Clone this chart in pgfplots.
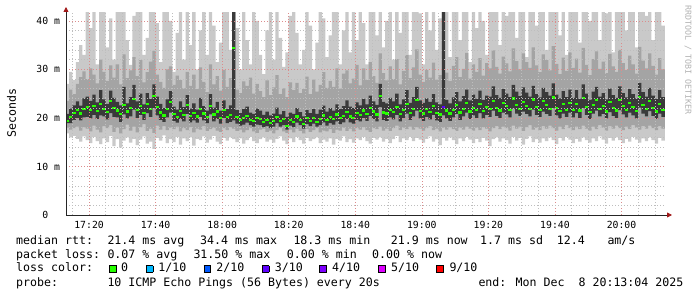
\documentclass[border=0pt]{standalone}
\usepackage{fontspec}
\setmainfont{DejaVu Sans Mono}
\usepackage{pgfplots}
\pgfplotsset{compat=1.18}
\usepackage{pgfplotstable}
\usepgfplotslibrary{fillbetween}
\usetikzlibrary{arrows.meta}

\definecolor{smokeA}{HTML}{C9C9C9}
\definecolor{smokeB}{HTML}{A4A4A4}
\definecolor{smokeC}{HTML}{3A3A3A}
\definecolor{medgreen}{HTML}{26FF00}
\definecolor{lossA}{HTML}{00B8FF}
\definecolor{lossB}{HTML}{0059FF}
\definecolor{lossC}{HTML}{5E00FF}
\definecolor{lossD}{HTML}{7E00FF}
\definecolor{lossE}{HTML}{DD00FF}
\definecolor{lossF}{HTML}{FF0000}
\definecolor{gridmaj}{HTML}{DC8C8C}
\definecolor{gridmin}{HTML}{BEBEBE}
\definecolor{arrowred}{HTML}{A01818}

\newcommand\legfont{\fontsize{11.6}{13}\selectfont}
\newcommand\tickfont{\fontsize{9.8}{11}\selectfont}
\newcommand\lbox[1]{{\fboxsep=0pt\fboxrule=0.7pt\fcolorbox{black}{#1}{\rule{0pt}{6.1pt}\hspace{6.1pt}}}}

% minute since 17:00, min, p2, p4, median, p7, p9, max (ms)
\pgfplotstableread{
t lo1 lo2 lo3 med hi3 hi2 hi1
13 16.8 18.0 18.9 19.4 20.8 23.5 27.0
14 16.0 17.6 18.9 20.2 21.9 25.8 29.5
15 16.3 17.9 19.6 21.0 22.6 24.9 27.8
16 15.7 18.2 20.0 21.6 23.4 27.0 31.5
17 15.1 17.4 19.5 20.9 22.5 28.4 35.0
18 16.2 18.1 20.1 21.8 24.0 29.6 33.0
19 15.4 17.8 20.2 22.3 24.4 28.0 44.0
20 14.8 17.2 19.9 21.7 23.5 30.2 38.5
21 16.1 18.4 20.6 22.5 24.8 28.9 44.0
22 15.2 17.6 19.8 21.4 23.2 27.1 31.0
23 14.6 17.0 20.5 22.8 25.7 32.0 44.0
24 15.8 18.3 20.3 21.9 23.8 29.5 44.0
25 15.0 17.9 19.7 21.2 22.9 27.6 34.5
26 16.3 18.5 21.0 23.4 25.6 30.8 40.5
27 14.2 17.1 20.2 22.0 24.1 28.3 32.0
28 15.6 18.0 20.1 21.5 23.3 31.0 44.0
29 13.9 16.8 19.2 20.8 22.6 26.9 44.0
30 15.3 17.7 20.7 22.6 26.4 33.1 44.0
31 16.0 18.6 19.9 21.3 23.0 28.2 36.0
32 14.9 17.4 20.3 22.1 24.3 29.8 30.9
33 15.7 18.2 21.7 23.9 26.8 32.5 41.0
34 14.4 17.0 20.0 21.6 23.4 28.6 44.0
35 15.5 18.1 20.6 22.4 25.0 31.9 44.0
36 16.2 18.7 19.6 21.0 22.8 27.3 33.0
37 14.7 17.3 21.0 22.9 25.1 29.4 36.5
38 15.1 17.8 20.2 21.8 23.9 31.6 44.0
39 13.6 16.9 22.0 24.5 26.9 33.8 44.0
40 15.9 18.4 20.5 22.2 24.4 28.9 39.5
41 15.3 17.6 19.6 21.1 22.9 27.4 31.5
42 16.4 18.3 19.2 20.5 22.0 26.2 44.0
43 14.8 17.5 20.1 21.9 23.8 30.0 44.0
44 15.6 18.0 21.1 23.2 25.5 30.6 40.0
45 15.0 17.7 19.4 20.8 22.3 26.8 29.5
46 16.1 18.2 19.0 20.2 21.7 28.7 37.5
47 14.5 17.2 19.8 21.4 23.4 27.8 44.0
48 15.8 17.9 19.3 20.6 22.2 26.1 32.0
49 15.2 17.5 20.8 22.7 24.7 29.5 44.0
50 16.0 18.1 19.1 20.4 21.9 26.6 35.0
51 14.3 17.0 19.5 21.0 23.0 28.9 44.0
52 15.7 17.8 19.0 20.3 21.7 25.9 30.0
53 15.4 17.6 20.2 21.8 24.1 30.4 38.0
54 16.2 18.3 19.5 20.9 22.4 27.4 44.0
55 14.9 17.3 18.9 20.1 21.5 25.3 33.0
56 15.5 17.7 20.7 22.5 24.9 31.0 44.0
57 16.3 18.0 19.3 20.7 22.1 26.9 39.0
58 15.1 17.4 19.8 21.3 23.3 28.6 31.5
59 14.6 17.1 18.8 20.0 21.5 25.6 35.5
60 15.9 17.9 20.0 21.6 23.6 29.9 44.0
61 15.3 17.5 18.9 20.2 21.8 26.4 44.0
62 16.0 18.1 19.2 20.6 22.6 28.2 34.0
63 15.6 17.8 19.5 34.4 44.0 44.0 44.0
64 15.0 17.3 18.8 20.1 21.6 25.8 38.5
65 15.8 17.6 18.4 19.5 21.0 25.1 30.0
66 14.7 17.0 18.6 19.9 21.8 27.5 44.0
67 15.4 17.5 19.0 20.4 22.3 26.6 36.0
68 16.1 17.9 18.5 19.6 21.1 28.3 31.0
69 15.2 17.2 18.2 19.3 20.8 25.0 44.0
70 14.8 16.9 18.6 20.0 21.9 27.0 40.0
71 15.6 17.6 18.5 19.8 21.5 25.5 33.0
72 16.0 17.8 18.1 19.2 20.6 24.3 29.0
73 15.1 17.1 18.3 19.6 21.3 27.7 38.0
74 15.5 17.4 17.9 19.0 20.5 24.7 44.0
75 14.9 16.8 18.2 19.4 20.9 26.3 32.0
76 15.7 17.5 18.9 20.2 22.1 28.8 44.0
77 16.2 17.9 18.2 19.3 20.7 24.9 36.5
78 15.3 17.2 18.5 19.7 21.4 26.1 30.5
79 14.6 16.9 17.6 18.3 20.2 24.3 33.5
80 15.8 17.6 18.4 19.5 21.1 27.3 41.0
81 15.0 17.0 18.1 19.1 20.8 25.7 44.0
82 16.1 17.8 19.0 20.3 22.0 27.2 37.5
83 15.4 17.3 18.5 19.6 21.2 25.1 31.0
84 14.7 16.8 17.8 18.8 20.3 25.9 34.0
85 15.9 17.7 18.7 19.9 21.6 28.5 44.0
86 15.2 17.1 18.3 19.4 21.0 24.9 39.0
87 15.6 17.5 18.8 20.0 21.8 27.9 30.0
88 16.0 17.9 18.2 19.2 20.8 25.4 35.5
89 14.8 17.0 18.5 19.7 21.7 26.8 44.0
90 15.5 17.4 19.1 20.5 22.5 29.4 40.5
91 15.1 17.2 18.4 19.5 21.3 26.2 32.5
92 15.8 17.7 18.9 20.1 22.0 27.6 37.0
93 14.5 16.9 18.6 19.8 21.5 26.4 44.0
94 15.7 17.6 19.3 20.7 22.8 30.2 44.0
95 15.3 17.4 18.7 19.9 21.8 26.0 31.0
96 16.2 18.0 19.1 20.4 22.4 29.1 38.0
97 15.0 17.3 19.8 21.2 23.6 29.8 44.0
98 15.6 17.8 19.1 20.3 22.3 27.1 33.5
99 14.9 17.2 18.8 20.0 22.0 28.1 44.0
100 15.8 17.9 19.6 21.0 23.2 30.9 36.0
101 15.4 17.6 19.3 20.6 22.6 26.7 44.0
102 16.1 18.1 20.0 21.5 23.9 30.2 39.5
103 15.2 17.5 19.4 20.8 22.8 27.8 31.0
104 14.7 17.1 20.4 22.0 24.6 31.5 44.0
105 15.9 17.9 19.8 21.3 23.4 28.6 44.0
106 15.5 17.7 19.3 20.7 22.7 27.2 37.0
107 16.0 18.2 22.2 24.5 27.0 33.3 44.0
108 15.1 17.4 19.6 21.1 23.3 29.2 34.5
109 15.7 17.8 19.4 20.9 23.0 27.7 40.0
110 14.8 17.3 20.1 21.7 24.1 30.6 44.0
111 15.6 17.9 19.7 21.2 23.4 28.0 32.0
112 16.3 18.4 20.6 22.3 25.0 32.1 44.0
113 15.0 17.5 19.3 20.8 22.8 26.9 37.5
114 15.8 18.0 20.0 21.6 23.8 29.7 44.0
115 15.4 17.7 20.9 22.8 25.7 32.9 44.0
116 16.1 18.2 19.6 21.0 23.1 28.2 33.0
117 15.2 17.6 20.3 21.9 24.3 30.4 44.0
118 15.9 18.1 21.5 23.6 26.4 34.1 44.0
119 15.5 17.8 19.9 21.4 23.6 28.9 41.5
120 14.9 17.4 19.4 20.9 23.1 27.4 31.0
121 15.7 17.9 20.2 21.8 24.0 29.9 44.0
122 16.2 18.3 19.7 21.2 23.3 28.3 38.0
123 15.1 17.5 20.6 22.4 24.9 31.4 44.0
124 15.6 17.8 19.5 21.0 23.2 27.9 34.0
125 14.4 17.2 19.2 20.7 22.8 28.8 40.5
126 15.9 18.0 20.5 22.3 44.0 44.0 44.0
127 15.3 17.6 19.9 21.5 23.7 29.3 44.0
128 16.0 18.1 19.4 20.9 23.0 27.6 32.5
129 15.4 17.7 20.1 21.7 24.2 30.7 44.0
130 14.6 17.3 20.8 22.6 25.3 32.5 44.0
131 15.8 18.0 19.6 21.1 23.4 28.4 36.0
132 15.2 17.6 20.3 21.9 24.5 30.1 42.0
133 16.1 18.2 21.1 23.0 25.8 33.4 44.0
134 15.5 17.8 19.8 21.3 23.6 28.1 31.5
135 14.8 17.4 20.5 22.1 24.8 31.0 44.0
136 15.7 18.0 20.0 21.6 23.9 29.5 38.5
137 15.0 17.5 21.0 22.9 25.6 32.3 44.0
138 15.9 18.1 19.9 21.4 23.7 28.7 40.0
139 15.3 17.8 20.6 22.2 24.6 31.3 33.0
140 14.2 17.2 20.2 21.8 24.4 30.2 44.0
141 15.6 17.9 21.5 23.5 26.5 33.9 44.0
142 16.0 18.3 20.4 22.0 24.7 30.5 44.0
143 15.1 17.7 20.0 21.5 24.1 29.1 35.0
144 15.8 18.2 21.1 23.1 25.9 32.6 44.0
145 15.4 17.9 20.7 22.4 25.0 31.2 41.0
146 14.7 17.4 20.1 21.6 24.3 29.6 44.0
147 16.1 18.4 21.9 24.0 26.8 34.3 44.0
148 15.3 17.8 20.9 22.7 25.4 31.7 36.5
149 15.9 18.2 20.4 21.9 24.5 30.0 44.0
150 14.5 17.3 21.3 23.3 26.3 33.3 44.0
151 15.7 18.1 20.8 22.5 25.2 31.5 32.5
152 16.2 18.5 20.3 21.8 24.4 30.3 44.0
153 15.0 17.6 21.7 23.8 26.6 34.5 44.0
154 15.6 18.0 20.6 22.2 24.9 30.8 39.0
155 14.9 17.5 20.2 21.7 24.2 29.4 44.0
156 15.8 18.3 21.3 23.4 26.2 33.1 44.0
157 15.2 17.8 20.8 22.6 25.3 31.9 34.0
158 16.0 18.4 20.4 21.9 24.6 29.8 44.0
159 15.4 17.9 22.0 24.2 27.1 34.8 44.0
160 14.6 17.4 20.5 22.1 24.8 31.1 44.0
161 15.9 18.2 19.9 21.4 24.0 29.0 37.0
162 15.3 17.7 20.9 22.8 25.5 32.4 44.0
163 16.1 18.5 20.2 21.7 24.3 29.7 33.0
164 15.5 17.9 21.1 23.0 25.8 33.5 44.0
165 14.8 17.5 20.1 21.6 24.1 30.3 42.0
166 15.7 18.2 21.0 22.9 25.7 32.2 44.0
167 15.1 17.7 20.0 21.5 23.9 29.3 35.5
168 16.0 18.4 22.0 24.1 26.9 34.4 44.0
169 15.4 17.8 20.6 22.3 25.0 30.9 44.0
170 14.9 17.4 19.8 21.2 23.7 28.8 40.0
171 15.8 18.2 20.9 22.7 25.4 32.1 44.0
172 15.2 17.7 21.5 23.6 26.4 33.7 44.0
173 16.2 18.5 20.3 21.8 24.4 30.1 36.0
174 15.5 18.0 20.8 22.5 25.1 31.6 44.0
175 14.7 17.4 19.9 21.3 23.8 29.2 41.5
176 15.9 18.3 21.2 23.2 26.0 33.2 44.0
177 15.3 17.8 20.4 22.0 24.7 30.6 33.5
178 16.0 18.4 20.0 21.5 24.1 29.5 44.0
179 15.4 17.9 21.6 23.7 26.5 34.0 44.0
180 14.8 17.5 20.7 22.4 25.1 31.3 44.0
181 15.7 18.2 20.1 21.6 24.2 29.9 38.0
182 15.1 17.7 21.1 23.1 25.9 32.8 44.0
183 16.1 18.5 20.5 22.2 24.9 31.0 44.0
184 15.5 18.0 19.9 21.4 24.0 29.1 34.5
185 14.9 17.6 22.1 24.3 27.2 34.6 44.0
186 15.8 18.3 20.9 22.6 25.3 31.8 44.0
187 15.2 17.8 20.3 21.8 24.4 30.2 41.0
188 16.0 18.4 21.4 23.4 26.2 33.3 44.0
189 15.4 17.9 20.4 22.0 24.6 30.7 36.0
190 14.7 17.5 19.8 21.3 23.9 28.9 44.0
191 15.9 18.3 20.9 22.9 25.7 32.3 44.0
192 15.3 17.8 20.2 21.7 24.3 30.0 39.0
193 15.3 17.8 20.2 21.7 24.3 30.0 39.0
}\smoke

\begin{document}
\begin{tikzpicture}[x=1pt,y=1pt]
\begin{axis}[
  at={(66pt,82pt)}, anchor=south west,
  scale only axis, width=599pt, height=202pt,
  xmin=13.07, xmax=193.07, ymin=0, ymax=41.6,
  axis on top,
  axis x line=bottom, axis y line=left,
  x axis line style={black!85, line width=0.8pt, shorten >=-7pt, -{Triangle[length=5pt,width=5pt,color=arrowred]}},
  y axis line style={black!85, line width=0.8pt, shorten >=-6pt, -{Triangle[length=5pt,width=5pt,color=arrowred]}},
  xtick={20,40,...,180},
  xticklabels={17:20,17:40,18:00,18:20,18:40,19:00,19:20,19:40,20:00},
  minor xtick={15,25,30,35,45,50,55,65,70,75,85,90,95,105,110,115,125,130,135,145,150,155,165,170,175,185,190},
  ytick={0,10,20,30,40},
  yticklabels={0\phantom{ m},10 m,20 m,30 m,40 m},
  minor ytick={2,4,6,8,12,14,16,18,22,24,26,28,32,34,36,38},
  major tick length=0pt, minor tick length=0pt,
  grid=both,
  major grid style={gridmaj, line width=0.5pt, dash pattern=on 1pt off 2pt},
  minor grid style={gridmin, line width=0.5pt, dash pattern=on 1pt off 2pt},
  xticklabel style={font=\tickfont, text=black, yshift=-3pt},
  yticklabel style={font=\tickfont, text=black, xshift=-2.5pt},
]
\addplot[name path=h1, draw=none, const plot] table[x=t,y=hi1]{\smoke};
\addplot[name path=l1, draw=none, const plot] table[x=t,y=lo1]{\smoke};
\addplot[name path=h2, draw=none, const plot] table[x=t,y=hi2]{\smoke};
\addplot[name path=l2, draw=none, const plot] table[x=t,y=lo2]{\smoke};
\addplot[name path=h3, draw=none, const plot] table[x=t,y=hi3]{\smoke};
\addplot[name path=l3, draw=none, const plot] table[x=t,y=lo3]{\smoke};
\addplot[smokeA, draw=none] fill between[of=h1 and l1];
\addplot[smokeB, draw=none] fill between[of=h2 and l2];
\addplot[smokeC, draw=none] fill between[of=h3 and l3];
\addplot[medgreen, line width=2.2pt, jump mark left] table[x=t,y=med]{\smoke};
\addplot[lossC, line width=2.2pt, jump mark left] coordinates {(126,22.3) (127,22.3)};
\end{axis}

\node[rotate=90, font=\legfont, inner sep=0] at (11.5,184) {Seconds};
\node[rotate=-90, font=\fontsize{8.3}{9}\selectfont, text=black!30, inner sep=0] at (688,237) {RRDTOOL / TOBI OETIKER};

\begin{scope}[every node/.style={anchor=base west, inner sep=0, font=\legfont}]
\node at (16,52.5) {median rtt:};
\node at (107.3,52.5) {21.4 ms avg};
\node at (200,52.5) {34.4 ms max};
\node at (293.3,52.5) {18.3 ms min};
\node at (390.7,52.5) {21.9 ms now};
\node at (480,52.5) {1.7 ms sd};
\node at (556.7,52.5) {12.4};
\node at (607.3,52.5) {am/s};

\node at (16,38.5) {packet loss:};
\node at (107.3,38.5) {0.07 \% avg};
\node at (193.3,38.5) {31.50 \% max};
\node at (286.7,38.5) {0.00 \% min};
\node at (372,38.5) {0.00 \% now};

\node at (16,25) {loss color:};
\node at (109,25) {\lbox{medgreen}};
\node at (121,25) {0};
\node at (145.7,25) {\lbox{lossA}};
\node at (158.2,25) {1/10};
\node at (203.3,25) {\lbox{lossB}};
\node at (216.2,25) {2/10};
\node at (261.7,25) {\lbox{lossC}};
\node at (274.7,25) {3/10};
\node at (319,25) {\lbox{lossD}};
\node at (332,25) {4/10};
\node at (378,25) {\lbox{lossE}};
\node at (391,25) {5/10};
\node at (436,25) {\lbox{lossF}};
\node at (449.3,25) {9/10};

\node at (16,10.5) {probe:};
\node at (107.3,10.5) {10 ICMP Echo Pings (56 Bytes) every 20s};
\node at (478.3,10.5) {end: Mon Dec\ \ 8 20:13:04 2025};
\end{scope}
\pgfresetboundingbox
\useasboundingbox (0,0) rectangle (697,297);
\end{tikzpicture}
\end{document}
